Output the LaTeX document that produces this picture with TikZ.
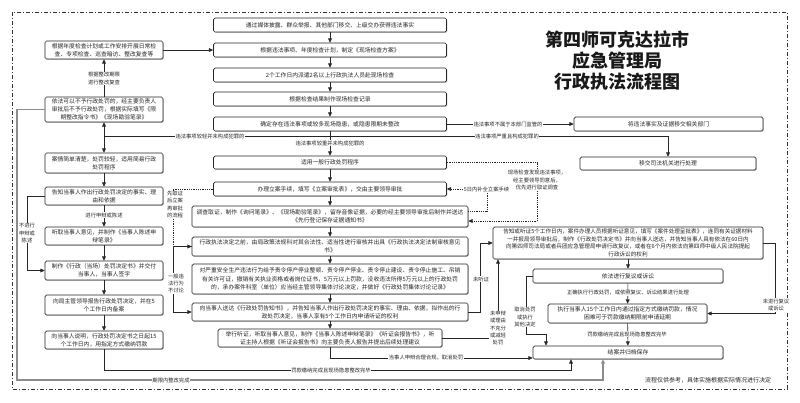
\documentclass[tikz,border=0pt]{standalone}
\usepackage{fontspec}
\setmainfont{Noto Sans CJK SC}
\usetikzlibrary{arrows.meta,shadows,calc}
\begin{document}
\begin{tikzpicture}[x=1pt,y=-1pt,
  box/.style={draw=black!85, line width=0.7pt, rounded corners=1.5pt, fill=white, align=center,
     font=\fontsize{5.8}{8.2}\selectfont, text=black!85, inner sep=1pt,
     drop shadow={shadow xshift=0.8pt, shadow yshift=-0.8pt, fill=black!40}},
  lab/.style={font=\fontsize{5.3}{7.2}\selectfont, fill=white, inner sep=0.6pt, align=center, text=black!85},
  arr/.style={-{Triangle[length=4.2pt,width=3.8pt]}, line width=0.65pt, draw=black!85},
  ln/.style={line width=0.65pt, draw=black!85},
  dotln/.style={dash pattern=on 0.8pt off 1pt, line width=0.75pt},
  gline/.style={draw=black!45, line width=1.3pt}]
\useasboundingbox (0,0) rectangle (800,402);
\draw[black!80, line width=0.8pt, dash pattern=on 4pt off 2pt on 1pt off 2pt] (12,12) rectangle (787,389);

% title
\node[font=\fontsize{18}{21}\selectfont\bfseries, align=center, text=black!90] (title) at (617,61)
  {第四师可克达拉市\\应急管理局\\行政执法流程图};

% centre column
\node[box, minimum width=233pt, minimum height=14pt] (c1) at (330,25) {通过媒体披露、群众举报、其他部门移交、上级交办获得违法事实};
\node[box, minimum width=233pt, minimum height=14pt] (c2) at (330,50) {根据违法事项、年度检查计划，制定《现场检查方案》};
\node[box, minimum width=233pt, minimum height=14pt] (c3) at (330,75) {2个工作日内派遣2名以上行政执法人员赴现场检查};
\node[box, minimum width=233pt, minimum height=14pt] (c4) at (330,99) {根据检查结果制作现场检查记录};
\node[box, minimum width=233pt, minimum height=14pt] (c5) at (330,124) {确定存在违法事项或较多现场隐患，或隐患限期未整改};
\node[box, minimum width=233pt, minimum height=13pt] (c6) at (330,162.5) {适用一般行政处罚程序};
\node[box, minimum width=233pt, minimum height=14pt] (c7) at (330,189) {办理立案手续，填写《立案审批表》，交由主要领导审批};
\node[box, minimum width=276pt, minimum height=21pt] (c8) at (330,216.5) {调查取证，制作《询问笔录》、《现场勘验笔录》，留存音像证据，必要的经主要领导审批后制作并送达\\《先行登记保存证据通知书》};
\node[box, minimum width=276pt, minimum height=19pt] (c9) at (330,246.5) {行政执法决定之前，由局政策法规科对其合法性、适当性进行审核并出具《行政执法决定法制审核意见\\书》};
\node[box, minimum width=276pt, minimum height=30pt] (c10) at (330,279) {对严重安全生产违法行为给予责令停产停业整顿、责令停产停业、责令停止建设、责令停止施工、吊销\\有关许可证，撤销有关执业资格或者岗位证书，5万元以上罚款，没收违法所得5万元以上的行政处罚\\的，承办案件科室（单位）应当经主管领导集体讨论决定，并做好《行政处罚集体讨论记录》};
\node[box, minimum width=276pt, minimum height=18pt] (c11) at (330,312) {向当事人送达《行政处罚告知书》，并告知当事人作出行政处罚决定的事实、理由、依据，拟作出的行\\政处罚决定，当事人享有5个工作日内申请听证的权利};
\node[box, minimum width=224pt, minimum height=18pt] (c12) at (330,338) {举行听证，听取当事人意见，制作《当事人陈述申辩笔录》《听证会报告书》，听\\证主持人根据《听证会报告书》向主要负责人报告并提出后续处理建议};

% left column
\node[box, minimum width=118pt, minimum height=18pt] (L1) at (104,50) {根据年度检查计划或工作安排开展日常检\\查、专项检查、巡查暗访、整改复查等};
\node[box, minimum width=118pt, minimum height=25pt] (L2) at (104,109.5) {依法可以不予行政处罚的，经主要负责人\\审批后不予行政处罚，根据实际填写《限\\期整改指令书》《现场勘验笔录》};
\node[box, minimum width=118pt, minimum height=20pt] (L3) at (104,163) {案情简单清楚，处罚较轻，适用简易行政\\处罚程序};
\node[box, minimum width=118pt, minimum height=18pt] (L4) at (104,196) {告知当事人作出行政处罚决定的事实、理\\由和依据};
\node[box, minimum width=118pt, minimum height=18pt] (L5) at (104,236) {听取当事人意见，并制作《当事人陈述申\\辩笔录》};
\node[box, minimum width=118pt, minimum height=19pt] (L6) at (104,270.5) {制作《行政（当场）处罚决定书》并交付\\当事人，当事人签字};
\node[box, minimum width=118pt, minimum height=20pt] (L7) at (104,305) {向局主管领导报告行政处罚决定，并在5\\个工作日内备案};
\node[box, minimum width=118pt, minimum height=18pt] (L8) at (104,340) {向当事人说明，行政处罚决定书之日起15\\个工作日内，用指定方式缴纳罚款};

% right column
\node[box, minimum width=189pt, minimum height=14pt] (r1) at (668.5,124) {将违法事实及证据移交相关部门};
\node[box, minimum width=176pt, minimum height=13pt] (r2) at (668,163.5) {移交司法机关进行处理};
\node[box, minimum width=270pt, minimum height=32pt, font=\fontsize{5.6}{7.7}\selectfont] (r3) at (628,243) {告知或听证5个工作日内，案件办理人员根据听证意见，填写《案件处理呈批表》，连同有关证据材料\\一并报局领导审批后，制作《行政处罚决定书》并向当事人送达，并告知当事人具有依法在60日内\\向第四师司法局或者兵团应急管理局申请行政复议，或者在6个月内依法向第四师中级人民法院提起\\行政诉讼的权利};
\node[box, minimum width=190pt, minimum height=14pt] (r4) at (628,276) {依法进行复议或诉讼};
\node[box, minimum width=159pt, minimum height=19pt] (r5) at (627.5,313.5) {执行当事人15个工作日内通过指定方式缴纳罚款，情况\\困难可于罚款缴纳期限前申请延期};
\node[box, minimum width=190pt, minimum height=13pt] (r6) at (628,352.5) {结案并归档保存};

% coordinates
\coordinate (j1) at (330,136);
\coordinate (g1) at (17,109.5);
\coordinate (g3) at (603,380);
\coordinate (f1) at (104,370);
\coordinate (f2) at (571,370);
\coordinate (h1) at (330,358);
\coordinate (n1) at (27,196);
\coordinate (d1) at (173,189);
\coordinate (s1) at (173,246.5);
\coordinate (e1) at (537,162.5);
\coordinate (e2) at (537,221);
\coordinate (k1) at (487,211);
\coordinate (k2) at (487,189);
\coordinate (u1) at (480,312);
\coordinate (u2) at (480,243);
\coordinate (v1) at (498,338);
\coordinate (w1) at (526,276);
\coordinate (w2) at (526,334);
\coordinate (w3) at (546,334);
\coordinate (z1) at (775,243);
\coordinate (z2) at (775,313.5);

% centre arrows
\draw[arr] (c1) -- (c2);
\draw[arr] (c2) -- (c3);
\draw[arr] (c3) -- (c4);
\draw[arr] (c4) -- (c5);
\draw[arr] (c5) -- (c6);
\draw[arr] (c6) -- (c7);
\draw[arr] (c7) -- (c8);
\draw[arr] (c8) -- (c9);
\draw[arr] (c9) -- (c10);
\draw[arr] (c10) -- (c11);
\draw[arr] (c11) -- (c12);
\draw[arr] (L1) -- (c2);
\draw[arr] (c5) -- (r1);
\draw[arr] (j1) -| (L2);
\draw[arr] (j1) -| (L3);
\draw[arr] (j1) -| (r2);
\draw[arr] (L2) -- (L1);

% left arrows
\draw[arr] (L3) -- (L4);
\draw[arr] (L4) -- (L5);
\draw[arr] (L5) -- (L6);
\draw[arr] (L6) -- (L7);
\draw[arr] (L7) -- (L8);
\draw[arr] (L4.west) -- (n1) |- (L6.west);
\draw[arr] (L8.south) -- (f1) -- (f2) -- (f2 |- r6.south);
\draw[arr, gline] (L2.west) -- (g1) |- (g3) -- (g3 |- r6.south);

% middle links
\draw[arr, dotln] (c7.west) -- (d1) |- (c9.west);
\draw[arr] (c9.west) -- (s1) |- (c11.west);
\draw[arr, dotln] (c6.east) -- (e1) -- (e2) -- (e2 -| c8.east);
\draw[arr, dotln] (k1 -| c8.east) -- (k1) -- (k2) -- (k2 -| c7.east);
\draw[arr] (c11.east) -- (u1) -- (u2) -- (r3.west);
\draw[arr] (c12.east) -- (v1) -- (v1 |- r3.south);
\draw[arr] (c12.south) -- (h1) -- (h1 -| r6.west);

% right arrows
\draw[arr] (r3) -- (r4);
\draw[arr] (r4) -- (r5);
\draw[arr] (r5) -- (r6);
\draw[arr] (r4.west) -- (w1) -- (w2) -- (w3) -- (w3 |- r6.north);
\draw[arr] (r3.east) -- (z1) -- (z2) -- (r5.east);

% labels
\node[lab] (t1) at (104,78.5) {根据整改期限\\进行整改复查};
\node[lab] (t2) at (210,136) {违法事项较轻并未构成犯罪的};
\node[lab] (t3) at (330,143) {违法事项较重并未构成犯罪的};
\node[lab] (t4) at (508,124) {违法事项不属于本部门监管的};
\node[lab] (t5) at (507,136) {违法事项严重且构成犯罪的};
\node[lab] (t6) at (104,215) {进行申辩或陈述};
\node[lab] (t7) at (27,233) {不进行\\申辩或\\陈述};
\node[lab] (t8) at (175,204.5) {先取证\\后立案\\再审批\\的流程};
\node[lab] (t9) at (176,283.5) {一般违\\法行为\\不讨论};
\node[lab] (t10) at (537,180) {现场检查发现违法事项，\\经主要领导同意后，\\优先进行取证调查};
\node[lab] (t11) at (486.5,189) {5日内补全立案手续};
\node[lab] (t12) at (481,279) {未听证};
\node[lab] (t13) at (498,328) {未申辩\\或理由\\不充分\\或减轻\\处罚};
\node[lab] (t14) at (426,358) {当事人申辩合理合规，取消处罚};
\node[lab] (t15) at (331,370) {罚款缴纳完成且现场隐患整改完毕};
\node[lab] (t16) at (171,380) {期限内整改完成};
\node[lab] (t17) at (628,293) {正确执行行政处罚，或依照复议、诉讼结果进行处理};
\node[lab] (t18) at (627,334) {罚款缴纳完成且现场隐患整改完毕};
\node[lab] (t19) at (525,317) {取消处罚\\或执行\\其他决定};
\node[lab] (t20) at (776,305) {未进行复议\\或诉讼};
\node[font=\fontsize{6}{7}\selectfont, text=black!85] (note) at (708,380) {流程仅供参考，具体实施根据实际情况进行决定};
\end{tikzpicture}
\end{document}
